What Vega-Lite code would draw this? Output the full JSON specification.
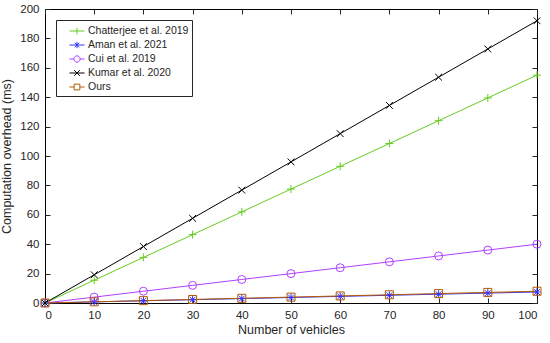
{
  "$schema": "https://vega.github.io/schema/vega-lite/v6.json",
  "width": 492,
  "height": 294,
  "autosize": "none",
  "padding": {"left": 45, "top": 9, "right": 13, "bottom": 40},
  "background": "white",
  "config": {
    "font": "Liberation Sans",
    "view": {"stroke": "black", "strokeWidth": 1},
    "axis": {"grid": false, "domain": false, "offset": -5, "tickSize": 5, "tickColor": "#262626", "labelColor": "#262626", "titleColor": "#262626", "labelFont": "Liberation Sans", "titleFont": "Liberation Sans", "labelFontSize": 11.5, "titleFontSize": 12.5, "titleFontWeight": "normal", "labelPadding": 6}
  },
  "data": {"values": [
    {"s": "Chatterjee et al. 2019", "x": 0, "y": 0}, {"s": "Chatterjee et al. 2019", "x": 10, "y": 15.5}, {"s": "Chatterjee et al. 2019", "x": 20, "y": 31}, {"s": "Chatterjee et al. 2019", "x": 30, "y": 46.5}, {"s": "Chatterjee et al. 2019", "x": 40, "y": 62}, {"s": "Chatterjee et al. 2019", "x": 50, "y": 77.5}, {"s": "Chatterjee et al. 2019", "x": 60, "y": 93}, {"s": "Chatterjee et al. 2019", "x": 70, "y": 108.5}, {"s": "Chatterjee et al. 2019", "x": 80, "y": 124}, {"s": "Chatterjee et al. 2019", "x": 90, "y": 139.5}, {"s": "Chatterjee et al. 2019", "x": 100, "y": 155},
    {"s": "Aman et al. 2021", "x": 0, "y": 0}, {"s": "Aman et al. 2021", "x": 10, "y": 0.75}, {"s": "Aman et al. 2021", "x": 20, "y": 1.5}, {"s": "Aman et al. 2021", "x": 30, "y": 2.25}, {"s": "Aman et al. 2021", "x": 40, "y": 3}, {"s": "Aman et al. 2021", "x": 50, "y": 3.75}, {"s": "Aman et al. 2021", "x": 60, "y": 4.5}, {"s": "Aman et al. 2021", "x": 70, "y": 5.25}, {"s": "Aman et al. 2021", "x": 80, "y": 6}, {"s": "Aman et al. 2021", "x": 90, "y": 6.75}, {"s": "Aman et al. 2021", "x": 100, "y": 7.5},
    {"s": "Cui et al. 2019", "x": 0, "y": 0}, {"s": "Cui et al. 2019", "x": 10, "y": 4}, {"s": "Cui et al. 2019", "x": 20, "y": 8}, {"s": "Cui et al. 2019", "x": 30, "y": 12}, {"s": "Cui et al. 2019", "x": 40, "y": 16}, {"s": "Cui et al. 2019", "x": 50, "y": 20}, {"s": "Cui et al. 2019", "x": 60, "y": 24}, {"s": "Cui et al. 2019", "x": 70, "y": 28}, {"s": "Cui et al. 2019", "x": 80, "y": 32}, {"s": "Cui et al. 2019", "x": 90, "y": 36}, {"s": "Cui et al. 2019", "x": 100, "y": 40},
    {"s": "Kumar et al. 2020", "x": 0, "y": 0}, {"s": "Kumar et al. 2020", "x": 10, "y": 19.2}, {"s": "Kumar et al. 2020", "x": 20, "y": 38.4}, {"s": "Kumar et al. 2020", "x": 30, "y": 57.6}, {"s": "Kumar et al. 2020", "x": 40, "y": 76.8}, {"s": "Kumar et al. 2020", "x": 50, "y": 96}, {"s": "Kumar et al. 2020", "x": 60, "y": 115.2}, {"s": "Kumar et al. 2020", "x": 70, "y": 134.4}, {"s": "Kumar et al. 2020", "x": 80, "y": 153.6}, {"s": "Kumar et al. 2020", "x": 90, "y": 172.8}, {"s": "Kumar et al. 2020", "x": 100, "y": 192},
    {"s": "Ours", "x": 0, "y": 0}, {"s": "Ours", "x": 10, "y": 0.8}, {"s": "Ours", "x": 20, "y": 1.6}, {"s": "Ours", "x": 30, "y": 2.4}, {"s": "Ours", "x": 40, "y": 3.2}, {"s": "Ours", "x": 50, "y": 4}, {"s": "Ours", "x": 60, "y": 4.8}, {"s": "Ours", "x": 70, "y": 5.6}, {"s": "Ours", "x": 80, "y": 6.4}, {"s": "Ours", "x": 90, "y": 7.2}, {"s": "Ours", "x": 100, "y": 8}
  ]},
  "layer": [
    {
      "mark": {"type": "line", "strokeWidth": 1},
      "encoding": {
        "x": {"field": "x", "type": "quantitative", "scale": {"domain": [0, 100], "nice": false}, "axis": {"title": "Number of vehicles", "values": [0,10,20,30,40,50,60,70,80,90,100], "titlePadding": 3}},
        "y": {"field": "y", "type": "quantitative", "scale": {"domain": [0, 200], "nice": false}, "axis": {"title": "Computation overhead (ms)", "values": [0,20,40,60,80,100,120,140,160,180,200], "titlePadding": 6}},
        "color": {"field": "s", "type": "nominal",
          "scale": {"domain": ["Chatterjee et al. 2019", "Aman et al. 2021", "Cui et al. 2019", "Kumar et al. 2020", "Ours"], "range": ["#66CC22", "#3333FF", "#B040FF", "#000000", "#B35900"]}},
        "detail": {"field": "s"}
      }
    },
    {
      "mark": {"type": "point", "filled": false, "strokeWidth": 1, "size": 64, "opacity": 1},
      "encoding": {
        "x": {"field": "x", "type": "quantitative", "axis": {"orient": "top", "labels": false, "title": null, "values": [0,10,20,30,40,50,60,70,80,90,100]}},
        "y": {"field": "y", "type": "quantitative", "axis": {"orient": "right", "labels": false, "title": null, "values": [0,20,40,60,80,100,120,140,160,180,200]}},
        "color": {"field": "s", "type": "nominal",
          "legend": {
            "title": null, "orient": "top-left", "offset": 11, "direction": "vertical",
            "strokeColor": "#262626", "fillColor": "white", "padding": 3,
            "labelFont": "Liberation Sans", "labelFontSize": 10.5, "labelColor": "#262626", "rowPadding": -1,
            "symbolSize": 225, "symbolStrokeWidth": 1, "labelOffset": 3, "symbolOffset": 10,
            "symbolType": {"expr": "datum.value === 'Chatterjee et al. 2019' ? 'M-1,0L1,0M0,-0.45L0,0.45' : datum.value === 'Aman et al. 2021' ? 'M-1,0L1,0M0,-0.42L0,0.42M-0.3,-0.3L0.3,0.3M-0.3,0.3L0.3,-0.3' : datum.value === 'Cui et al. 2019' ? 'M-1,0L-0.42,0M0.42,0L1,0M-0.42,0A0.42,0.42,0,1,0,0.42,0A0.42,0.42,0,1,0,-0.42,0' : datum.value === 'Kumar et al. 2020' ? 'M-1,0L1,0M-0.38,-0.38L0.38,0.38M-0.38,0.38L0.38,-0.38' : 'M-1,0L-0.38,0M0.38,0L1,0M-0.38,-0.38L0.38,-0.38L0.38,0.38L-0.38,0.38Z'"}
          }},
        "shape": {"field": "s", "type": "nominal", "legend": null,
          "scale": {"range": ["M-1,0L1,0M0,-1L0,1M-0.72,-0.72L0.72,0.72M-0.72,0.72L0.72,-0.72", "M-1,0L1,0M0,-1L0,1", "circle", "M-0.85,-0.85L0.85,0.85M-0.85,0.85L0.85,-0.85", "square"]}}
      }
    }
  ],
  "resolve": {"axis": {"x": "independent", "y": "independent"}}
}
